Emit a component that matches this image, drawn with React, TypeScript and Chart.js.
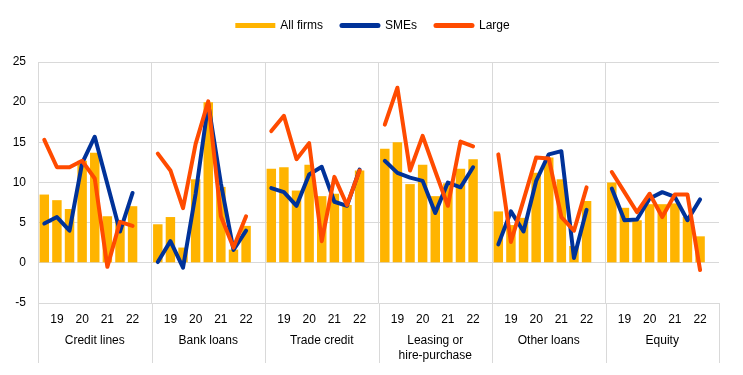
import React, { useEffect, useRef } from "react";
import { Chart, registerables } from "chart.js";

Chart.register(...registerables);

const groups = ["Credit lines", "Bank loans", "Trade credit", "Leasing or|hire-purchase", "Other loans", "Equity"];
const periodLabels = ["", "19", "", "20", "", "21", "", "22", ""];

const allFirms = [
  [8.5, 7.8, 6.7, 12.7, 13.7, 5.8, 5.2, 7.05],
  [4.8, 5.7, 1.9, 10.4, 20.0, 9.45, 1.65, 4.6],
  [11.7, 11.9, 9.0, 12.2, 8.3, 8.6, 7.2, 11.5],
  [14.2, 15.0, 9.8, 12.2, 8.3, 9.9, 11.7, 12.9],
  [6.4, 4.7, 5.6, 11.2, 13.1, 10.4, 2.1, 7.7],
  [10.0, 6.85, 5.3, 7.3, 7.3, 7.4, 5.7, 3.3],
];
const smes = [
  [4.9, 5.7, 4.0, 12.4, 15.7, 9.8, 3.9, 8.7],
  [0.1, 2.7, -0.6, 8.6, 19.8, 9.9, 1.6, 4.0],
  [9.3, 8.8, 7.1, 11.0, 11.95, 7.6, 7.1, 11.6],
  [12.7, 11.2, 10.6, 10.2, 6.2, 10.0, 9.4, 11.9],
  [2.3, 6.4, 3.9, 10.2, 13.5, 13.9, 0.6, 6.6],
  [9.25, 5.3, 5.4, 8.0, 8.8, 8.2, 5.3, 7.9],
];
const large = [
  [15.3, 11.9, 11.9, 12.7, 10.5, -0.5, 5.1, 4.6],
  [13.6, 11.5, 6.8, 14.8, 20.1, 5.8, 1.9, 5.8],
  [16.4, 18.3, 12.9, 14.9, 2.7, 10.7, 7.2, 11.5],
  [17.2, 21.8, 11.5, 15.8, 11.4, 7.1, 15.1, 14.5],
  [13.5, 2.6, 7.8, 13.1, 13.0, 5.7, 4.0, 9.4],
  [11.3, 8.8, 6.3, 8.6, 5.7, 8.5, 8.5, -0.9],
];

const seriesNames = ["All firms", "SMEs", "Large"];
const colors = ["#FFB400", "#003299", "#FF4B00"];

const SLOTS = periodLabels.length;
const flatten = (arr: number[][]) => arr.flatMap((g) => [...g, null as any]);
const categories = groups.flatMap((g) => periodLabels.map((p) => g + " " + p));

const FONT = "Arial, 'Liberation Sans', sans-serif";

const extrasPlugin = {
  id: "extras",
  afterDraw(chart: any) {
    const ctx = chart.ctx;
    const xs = chart.scales.x;
    const area = chart.chartArea;
    const half = (xs.getPixelForValue(1) - xs.getPixelForValue(0)) / 2;
    ctx.save();
    // group separator lines extending below axis
    ctx.strokeStyle = "#d9d9d9";
    ctx.lineWidth = 1;
    for (let g = 0; g <= groups.length; g++) {
      const x = Math.round(xs.getPixelForValue(g * SLOTS) - half) + 0.5;
      ctx.beginPath();
      ctx.moveTo(x, area.bottom);
      ctx.lineTo(x, area.bottom + 60);
      ctx.stroke();
    }
    // group labels
    ctx.fillStyle = "#000";
    ctx.font = "12px " + FONT;
    ctx.textAlign = "center";
    ctx.textBaseline = "middle";
    groups.forEach((g, i) => {
      const x0 = xs.getPixelForValue(i * SLOTS) - half;
      const x1 = xs.getPixelForValue((i + 1) * SLOTS) - half;
      const cx = (x0 + x1) / 2;
      g.split("|").forEach((line, k) => {
        ctx.fillText(line, cx, area.bottom + 38 + k * 15);
      });
    });
    // legend
    const boxW = 40;
    const gapText = 5;
    const spacing = 17;
    const widths = seriesNames.map((n) => boxW + gapText + ctx.measureText(n).width);
    const total = widths.reduce((a, b) => a + b, 0) + spacing * (widths.length - 1);
    let x = chart.width / 2 - total / 2 + 1;
    const y = 25.5;
    seriesNames.forEach((n, i) => {
      ctx.strokeStyle = colors[i];
      ctx.lineWidth = 5;
      ctx.lineCap = i === 0 ? "butt" : "round";
      ctx.beginPath();
      ctx.moveTo(x + (i === 0 ? 0 : 2), y);
      ctx.lineTo(x + boxW - (i === 0 ? 0 : 2), y);
      ctx.stroke();
      ctx.fillStyle = "#000";
      ctx.textAlign = "left";
      ctx.fillText(n, x + boxW + gapText, y + 0.5);
      x += widths[i] + spacing;
    });
    ctx.restore();
  },
};

export default function App() {
  const ref = useRef<HTMLCanvasElement>(null);
  useEffect(() => {
    if (!ref.current) return;
    const chart = new Chart(ref.current, {
      type: "bar",
      data: {
        labels: categories,
        datasets: [
          {
            type: "bar",
            label: seriesNames[0],
            data: flatten(allFirms),
            backgroundColor: colors[0],
            borderWidth: 0,
            barPercentage: 0.75,
            categoryPercentage: 1.0,
            order: 3,
          },
          {
            type: "line",
            label: seriesNames[1],
            data: flatten(smes),
            borderColor: colors[1],
            backgroundColor: colors[1],
            borderWidth: 4,
            pointRadius: 0,
            tension: 0,
            spanGaps: false,
            borderCapStyle: "round",
            borderJoinStyle: "round",
            order: 2,
          },
          {
            type: "line",
            label: seriesNames[2],
            data: flatten(large),
            borderColor: colors[2],
            backgroundColor: colors[2],
            borderWidth: 4,
            pointRadius: 0,
            tension: 0,
            spanGaps: false,
            borderCapStyle: "round",
            borderJoinStyle: "round",
            order: 1,
          },
        ] as any,
      },
      options: {
        responsive: false,
        animation: false,
        devicePixelRatio: 1,
        layout: { padding: { top: 62, right: 24, left: 0, bottom: 0 } },
        plugins: {
          legend: { display: false },
          tooltip: { enabled: false },
        },
        scales: {
          x: {
            offset: true,
            grid: {
              offset: true,
              drawTicks: false,
              color: (c: any) => (c.index % SLOTS === 0 ? "#d9d9d9" : "rgba(0,0,0,0)"),
            },
            border: { display: false },
            ticks: {
              autoSkip: false,
              maxRotation: 0,
              minRotation: 0,
              padding: 9,
              color: "#000",
              font: { size: 12, family: FONT },
              callback: (_v: any, i: number) => periodLabels[i % SLOTS],
            },
            afterFit: (s: any) => {
              s.height = 72;
            },
          },
          y: {
            min: -5,
            max: 25,
            grid: { color: "#d9d9d9", drawTicks: false },
            border: { display: false },
            ticks: {
              stepSize: 5,
              padding: 12,
              color: "#000",
              font: { size: 12, family: FONT },
            },
            afterFit: (s: any) => {
              s.width = 38;
            },
          },
        },
      },
      plugins: [extrasPlugin],
    });
    return () => chart.destroy();
  }, []);
  return (
    <div style={{ position: "absolute", left: 0, top: 0, width: 743, height: 375, background: "#fff" }}>
      <canvas ref={ref} width={743} height={375} />
    </div>
  );
}
